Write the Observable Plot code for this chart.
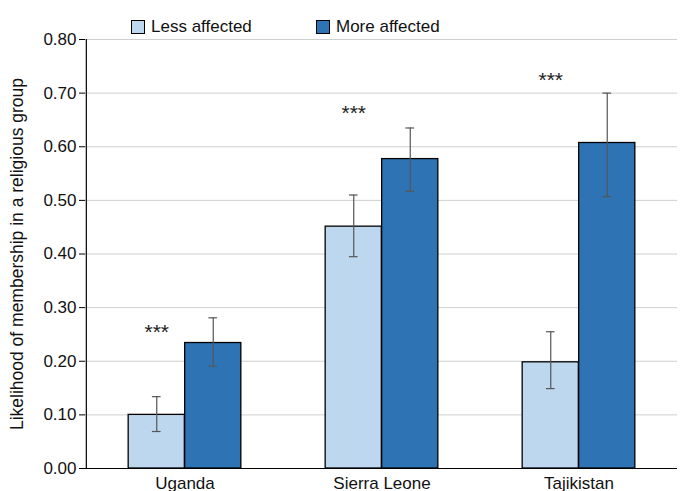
<!DOCTYPE html>
<html>
<head>
<meta charset="utf-8">
<script src="https://cdn.jsdelivr.net/npm/d3@7"></script>
<script src="https://cdn.jsdelivr.net/npm/@observablehq/plot@0.6"></script>
<style>
  body { margin: 0; background: #fff; font-family: "Liberation Sans", Arial, Helvetica, sans-serif; }
  #wrap { position: relative; width: 690px; height: 491px; overflow: hidden; }
  .legend { position: absolute; top: 17px; font-size: 17px; color: #111; display: flex; align-items: center; }
  .sw { width: 12px; height: 12px; border: 1px solid #000; margin-right: 6px; }
</style>
</head>
<body>
<div id="wrap"></div>
<script>
const countries = ["Uganda", "Sierra Leone", "Tajikistan"];
const seriesNames = ["Less affected", "More affected"];
const lessValue = [0.100, 0.451, 0.198];
const lessLow   = [0.069, 0.395, 0.149];
const lessHigh  = [0.134, 0.510, 0.255];
const moreValue = [0.234, 0.577, 0.607];
const moreLow   = [0.191, 0.517, 0.507];
const moreHigh  = [0.281, 0.635, 0.700];
const starLabel = ["***", "***", "***"];
const starY     = [0.263, 0.671, 0.734];
const yTicks    = [0, 0.1, 0.2, 0.3, 0.4, 0.5, 0.6, 0.7, 0.8];

const colors = ["#bdd7ee", "#2e74b5"];

const less = countries.map((c, i) => ({country: c, v: lessValue[i], lo: lessLow[i], hi: lessHigh[i]}));
const more = countries.map((c, i) => ({country: c, v: moreValue[i], lo: moreLow[i], hi: moreHigh[i]}));
const stars = countries.map((c, i) => ({country: c, y: starY[i], t: starLabel[i]}));

const W = 690, H = 491, mL = 85, mR = 13, mT = 39, mB = 23;
const half = (W - mL - mR) / countries.length / 2;
const barW = 56.5;
const off = barW / 2;
const cap = 4.5;

const plot = Plot.plot({
  width: W, height: H,
  marginLeft: mL, marginRight: mR, marginTop: mT, marginBottom: mB,
  style: {fontFamily: "'Liberation Sans', Arial, Helvetica, sans-serif", fontSize: "17px", color: "#111", background: "#fff"},
  x: {domain: countries, padding: 0, label: null},
  y: {domain: [0, 0.8], label: null},
  marks: [
    Plot.gridY(yTicks, {stroke: "#cfcfcf", strokeOpacity: 1, strokeWidth: 1}),
    Plot.barY(less, {x: "country", y: "v", fill: colors[0], stroke: "#000", strokeWidth: 1.3, insetLeft: half - barW, insetRight: half}),
    Plot.barY(more, {x: "country", y: "v", fill: colors[1], stroke: "#000", strokeWidth: 1.3, insetLeft: half, insetRight: half - barW}),
    Plot.ruleX(less, {x: "country", y1: "lo", y2: "hi", dx: -off, stroke: "#555", strokeWidth: 1.2}),
    Plot.ruleX(more, {x: "country", y1: "lo", y2: "hi", dx: off, stroke: "#555", strokeWidth: 1.2}),
    Plot.tickY(less, {x: "country", y: "lo", insetLeft: half - off - cap, insetRight: half + off - cap, stroke: "#555", strokeWidth: 1.2}),
    Plot.tickY(less, {x: "country", y: "hi", insetLeft: half - off - cap, insetRight: half + off - cap, stroke: "#555", strokeWidth: 1.2}),
    Plot.tickY(more, {x: "country", y: "lo", insetLeft: half + off - cap, insetRight: half - off - cap, stroke: "#555", strokeWidth: 1.2}),
    Plot.tickY(more, {x: "country", y: "hi", insetLeft: half + off - cap, insetRight: half - off - cap, stroke: "#555", strokeWidth: 1.2}),
    Plot.text(stars, {x: "country", y: "y", text: "t", dx: -off, dy: 5, lineAnchor: "middle", fontSize: 21, fill: "#222"}),
    Plot.ruleY([0], {stroke: "#000", strokeWidth: 1.2}),
    Plot.ruleX([countries[0]], {dx: -half, stroke: "#000", strokeWidth: 1.2}),
    Plot.axisY(yTicks, {tickFormat: d3.format(".2f"), tickSize: 6, tickPadding: 3, fontSize: 17, label: null, stroke: "#000"}),
    Plot.axisX({tickSize: 0, tickPadding: 8, fontSize: 17, label: null}),
    Plot.text(["Likelihood of membership in a religious group"], {frameAnchor: "left", dx: -68, rotate: -90, fontSize: 17.5, textAnchor: "middle", lineAnchor: "middle", fill: "#111"})
  ]
});

const wrap = document.getElementById("wrap");
wrap.appendChild(plot);

const legendPos = [131, 316];
seriesNames.forEach((name, i) => {
  const d = document.createElement("div");
  d.className = "legend";
  d.style.left = legendPos[i] + "px";
  const sw = document.createElement("div");
  sw.className = "sw";
  sw.style.background = colors[i];
  const t = document.createElement("span");
  t.textContent = name;
  d.appendChild(sw); d.appendChild(t);
  wrap.appendChild(d);
});
</script>
</body>
</html>
